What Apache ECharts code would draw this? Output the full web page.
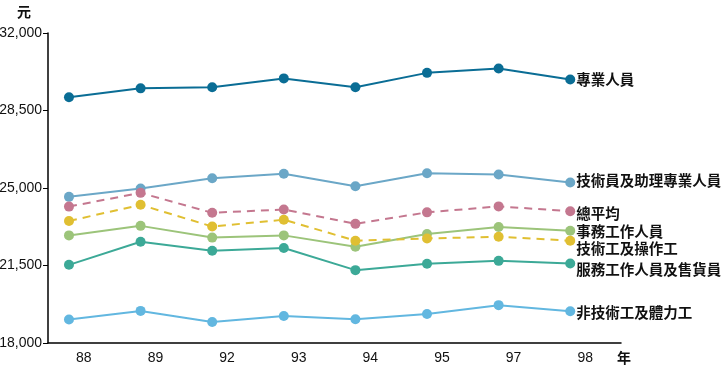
<!DOCTYPE html>
<html>
<head>
<meta charset="utf-8">
<script src="https://cdn.jsdelivr.net/npm/echarts@6/dist/echarts.min.js"></script>
<style>
html, body { margin: 0; padding: 0; background: #fff; }
#main { width: 727px; height: 377px; }
</style>
</head>
<body>
<div id="main"></div>
<script>
// 年份
var years = ['88', '89', '92', '93', '94', '95', '97', '98'];

// 各職業平均月薪 (元)
var zhuanye = [29100, 29500, 29550, 29950, 29550, 30200, 30400, 29900];
var jishuyuan = [24600, 24980, 25440, 25640, 25080, 25670, 25610, 25250];
var zongpingjun = [24160, 24780, 23880, 24030, 23380, 23900, 24170, 23950];
var shiwu = [22860, 23290, 22760, 22860, 22350, 22920, 23240, 23070];
var jishugong = [23510, 24240, 23260, 23570, 22620, 22720, 22800, 22620];
var fuwu = [21530, 22570, 22170, 22290, 21290, 21580, 21710, 21590];
var feijishu = [19060, 19450, 18950, 19220, 19070, 19310, 19710, 19430];

var names = ['專業人員', '技術員及助理專業人員', '總平均', '事務工作人員', '技術工及操作工', '服務工作人員及售貨員', '非技術工及體力工'];
var values = [zhuanye, jishuyuan, zongpingjun, shiwu, jishugong, fuwu, feijishu];
var colors = ['#0a6d95', '#6ba7c7', '#c4778f', '#9cc47a', '#e0bf32', '#3ca997', '#62b7e0'];
var dashed = [false, false, true, false, true, false, false];
var labelDy = [0, -2, 2, 1, 8, 6, 1];

var myChart = echarts.init(document.getElementById('main'));

function toPoints(arr) {
    var pts = [];
    for (var i = 0; i < arr.length; i++) {
        pts.push([i, arr[i]]);
    }
    return pts;
}

var series = [];
for (var k = 0; k < names.length; k++) {
    series.push({
        name: names[k],
        type: 'line',
        xAxisIndex: 1,
        data: toPoints(values[k]),
        symbol: 'circle',
        symbolSize: 10,
        showAllSymbol: true,
        itemStyle: { color: colors[k] },
        lineStyle: {
            color: colors[k],
            width: 2,
            type: dashed[k] ? [8, 6] : 'solid'
        },
        endLabel: {
            show: true,
            formatter: '{a}',
            distance: 6,
            offset: [0, labelDy[k]],
            color: '#111',
            fontSize: 14.5,
            fontWeight: 'bold',
            fontFamily: '"Noto Sans CJK TC", sans-serif'
        },
        animation: false
    });
}

var option = {
    animation: false,
    grid: { left: 48, top: 33, right: 106, bottom: 34, containLabel: false, outerBoundsMode: 'none' },
    xAxis: [
        {
            type: 'category',
            data: years,
            boundaryGap: true,
            axisLine: { lineStyle: { color: '#000', width: 1.5 } },
            axisTick: { inside: true, length: 6, lineStyle: { color: '#000' } },
            axisLabel: { color: '#111', fontSize: 14, margin: 8, fontFamily: '"Liberation Sans", Arial, sans-serif' },
            name: '年',
            nameLocation: 'end',
            nameGap: -4,
            nameTextStyle: {
                color: '#111', fontSize: 14, fontWeight: 'bold',
                fontFamily: '"Noto Sans CJK TC", sans-serif',
                verticalAlign: 'top', padding: [8, 0, 0, 0]
            }
        },
        {
            type: 'value',
            min: -0.293,
            max: 7.709,
            show: false
        }
    ],
    yAxis: {
        type: 'value',
        min: 18000,
        max: 32000,
        interval: 3500,
        axisLine: { show: true, onZero: false, lineStyle: { color: '#000', width: 1.5 } },
        axisTick: { show: true, length: 5, lineStyle: { color: '#000' } },
        splitLine: { show: false },
        axisLabel: {
            color: '#111', fontSize: 14, margin: 6,
            fontFamily: '"Liberation Sans", Arial, sans-serif',
            formatter: function (v) { return echarts.format.addCommas(v); }
        },
        name: '元',
        nameGap: 14,
        nameTextStyle: {
            color: '#111', fontSize: 14, fontWeight: 'bold',
            fontFamily: '"Noto Sans CJK TC", sans-serif',
            align: 'right', padding: [0, 17, 0, 0]
        }
    },
    series: series
};

myChart.setOption(option);
</script>
</body>
</html>
